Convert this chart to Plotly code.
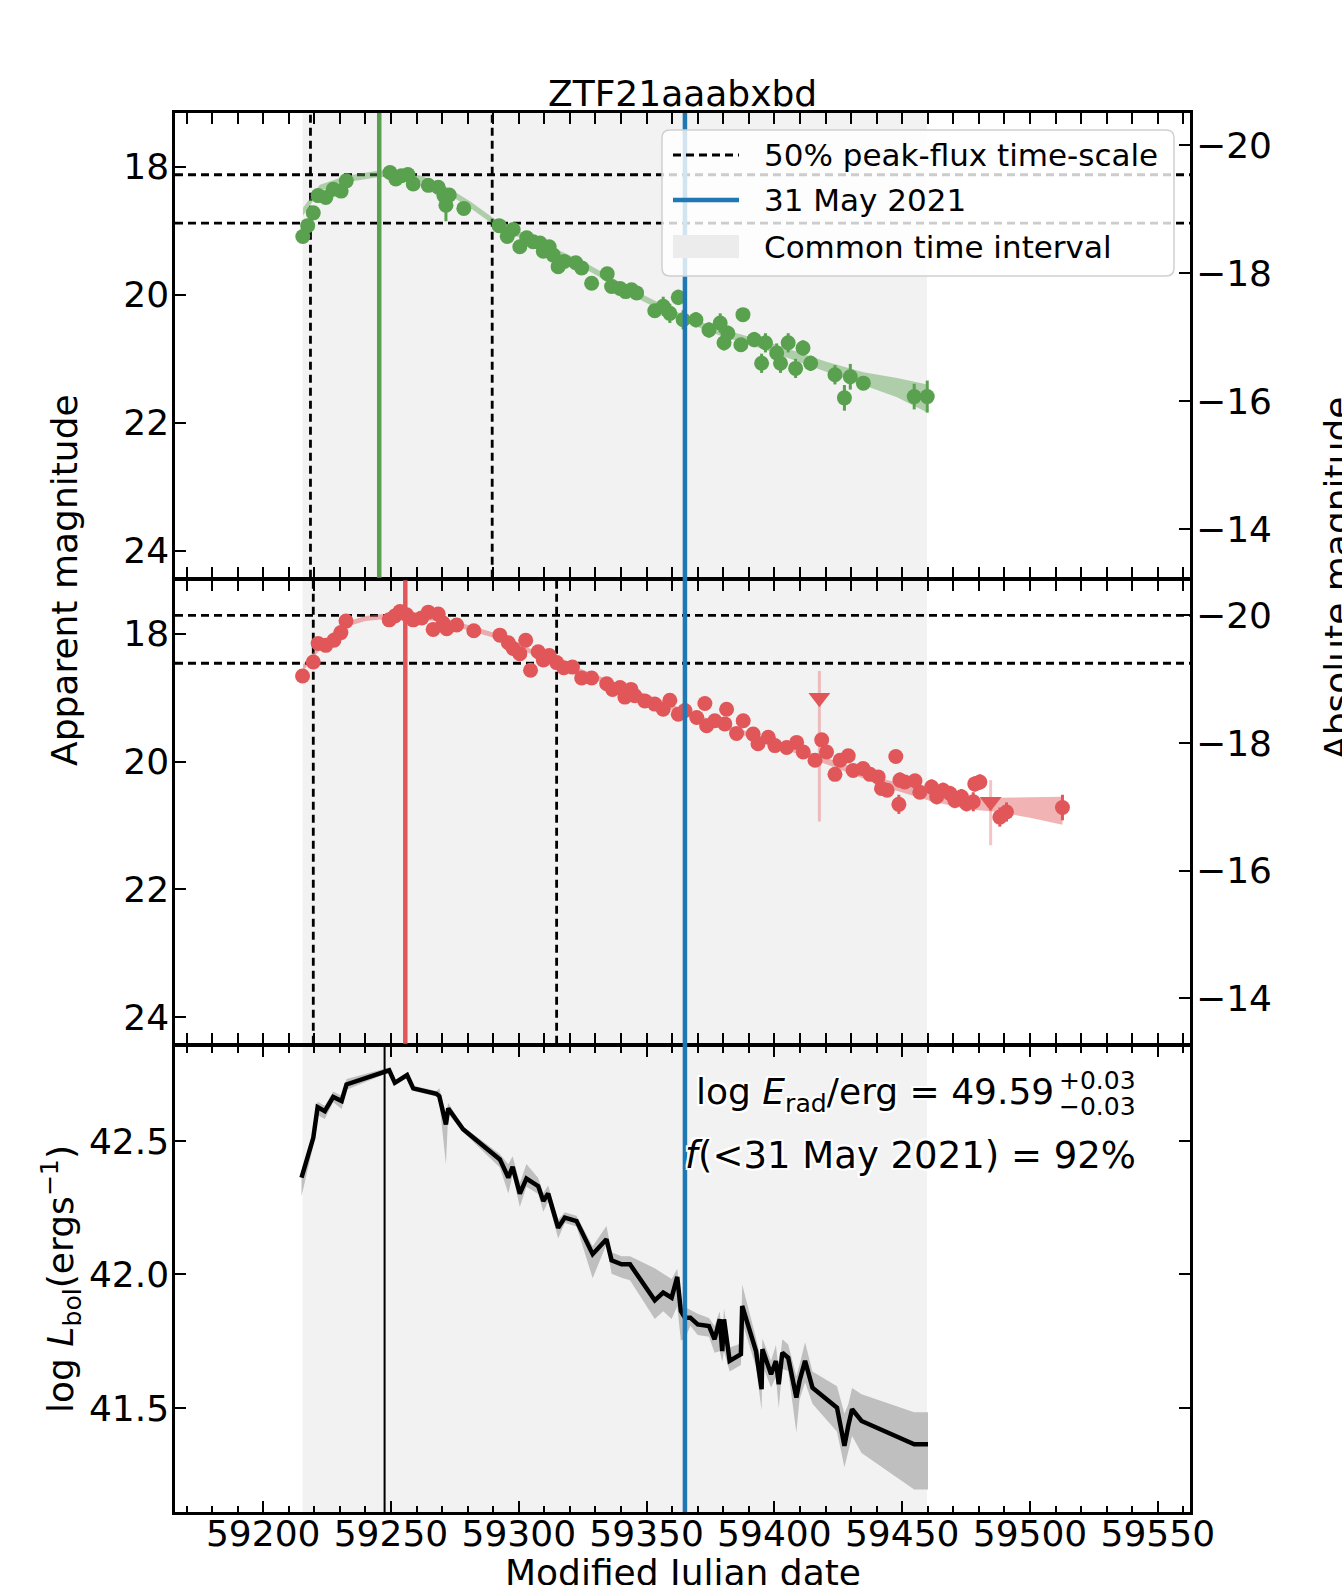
import plotly.graph_objects as go

# ---------------- data ----------------
title_text = "ZTF21aaabxbd"
x_range = [59165.5, 59562.6]
mag_range = [24.42, 17.16]
dm_g = 37.66
dm_r = 37.71
logL_range = [41.11, 42.855]
x_ticks = [59200, 59250, 59300, 59350, 59400, 59450, 59500, 59550]
mag_ticks = [18, 20, 22, 24]
abs_ticks = [-20, -18, -16, -14]
logL_ticks = [41.5, 42.0, 42.5]
logL_ticklabels = ["41.5", "42.0", "42.5"]

common_interval = [59215.4, 59459.7]
date_mjd = 59365.0
g_peak = 59245.4
r_peak = 59255.6
L_peak = 59247.5
g_half_t = [59218.5, 59289.6]
g_half_m = [18.125, 18.88]
r_half_t = [59219.6, 59314.8]
r_half_m = [17.71, 18.46]

g_t = [59215.5, 59217.4, 59219.6, 59221.5, 59224.5, 59227.4, 59230.5, 59232.5, 59249.6, 59251.9,
       59254.1, 59256.6, 59258.7, 59264.6, 59268.5, 59270.7, 59271.5, 59272.8, 59278.5, 59292.3,
       59295.5, 59297.8, 59300.4, 59303.1, 59305.6, 59308.3, 59309.6, 59311.9, 59313.5, 59315.4,
       59317.8, 59322.3, 59324.6, 59328.5, 59334.6, 59336.3, 59339.6, 59341.8, 59344.1, 59346.1,
       59353.2, 59356.5, 59359.1, 59362.4, 59364.3, 59369.3, 59374.4, 59378.8, 59380.3, 59381.8,
       59386.9, 59387.7, 59392.1, 59395.0, 59396.5, 59400.9, 59402.4, 59405.4, 59408.3, 59411.2,
       59414.2, 59423.7, 59427.4, 59429.7, 59434.8, 59454.7, 59459.8]
g_m = [19.09, 18.92, 18.72, 18.45, 18.48, 18.35, 18.38, 18.22, 18.09, 18.19,
       18.14, 18.12, 18.27, 18.29, 18.32, 18.45, 18.60, 18.44, 18.65, 18.92,
       19.09, 18.98, 19.25, 19.11, 19.17, 19.19, 19.32, 19.25, 19.38, 19.56,
       19.48, 19.50, 19.58, 19.82, 19.67, 19.87, 19.90, 19.95, 19.92, 19.97,
       20.25, 20.18, 20.29, 20.04, 20.39, 20.39, 20.55, 20.44, 20.75, 20.60,
       20.78, 20.31, 20.70, 21.07, 20.75, 20.91, 21.07, 20.75, 21.15, 20.83,
       21.07, 21.25, 21.61, 21.28, 21.38, 21.59, 21.59]
g_e = [0.08, 0.06, 0.05, 0.04, 0.04, 0.04, 0.04, 0.04, 0.03, 0.03,
       0.03, 0.03, 0.03, 0.03, 0.05, 0.05, 0.25, 0.06, 0.04, 0.04,
       0.05, 0.05, 0.05, 0.06, 0.05, 0.05, 0.05, 0.05, 0.05, 0.05,
       0.05, 0.05, 0.05, 0.10, 0.06, 0.06, 0.06, 0.05, 0.05, 0.05,
       0.10, 0.15, 0.15, 0.12, 0.15, 0.12, 0.12, 0.15, 0.12, 0.12,
       0.10, 0.10, 0.12, 0.15, 0.15, 0.15, 0.15, 0.15, 0.15, 0.12,
       0.12, 0.15, 0.20, 0.20, 0.10, 0.20, 0.25]

g_fit_t = [59215.6, 59222.2, 59232.6, 59245.4, 59254.6, 59262.4, 59271.5, 59280.9, 59290.0, 59307.0,
           59326.6, 59346.1, 59362.0, 59376.0, 59398.0, 59420.0, 59434.8, 59448.0, 59459.8]
g_fit_m = [18.70, 18.33, 18.19, 18.11, 18.12, 18.20, 18.36, 18.59, 18.85, 19.19,
           19.56, 20.00, 20.32, 20.55, 20.81, 21.12, 21.31, 21.45, 21.62]
g_fit_hw = [0.06, 0.05, 0.05, 0.05, 0.05, 0.05, 0.05, 0.05, 0.05, 0.05,
            0.05, 0.05, 0.05, 0.05, 0.07, 0.08, 0.10, 0.15, 0.22]

r_t = [59215.4, 59219.6, 59221.5, 59224.5, 59227.7, 59230.4, 59232.4, 59249.3, 59251.5, 59253.5,
       59256.1, 59258.7, 59262.0, 59264.6, 59266.5, 59268.5, 59270.4, 59271.8, 59275.7, 59282.4,
       59292.6, 59295.9, 59297.8, 59300.4, 59302.7, 59304.6, 59307.6, 59309.6, 59311.9, 59314.8,
       59317.6, 59321.0, 59324.6, 59328.5, 59334.4, 59336.7, 59339.6, 59341.5, 59343.9, 59345.4,
       59349.3, 59353.2, 59356.5, 59359.1, 59362.4, 59365.0, 59369.6, 59372.8, 59373.5, 59376.7,
       59380.6, 59381.3, 59385.2, 59387.8, 59391.7, 59393.6, 59397.6, 59400.2, 59404.8, 59408.7,
       59411.3, 59415.9, 59418.5, 59420.4, 59423.7, 59425.7, 59428.9, 59430.8, 59434.7, 59437.4,
       59440.6, 59441.9, 59444.1, 59447.5, 59448.7, 59449.1, 59451.0, 59455.0, 59456.9, 59461.5,
       59463.5, 59466.0, 59468.7, 59470.6, 59473.2, 59475.2, 59477.8, 59478.4, 59480.4, 59488.2,
       59490.8, 59512.7]
r_m = [18.66, 18.44, 18.15, 18.18, 18.10, 17.98, 17.80, 17.78, 17.72, 17.65,
       17.70, 17.78, 17.75, 17.66, 17.93, 17.69, 17.83, 17.92, 17.86, 17.95,
       18.02, 18.14, 18.23, 18.31, 18.10, 18.57, 18.28, 18.41, 18.34, 18.45,
       18.53, 18.52, 18.69, 18.69, 18.78, 18.87, 18.84, 18.99, 18.87, 18.97,
       19.05, 19.10, 19.18, 19.04, 19.26, 19.20, 19.31, 19.09, 19.44, 19.36,
       19.41, 19.18, 19.56, 19.36, 19.57, 19.72, 19.62, 19.75, 19.78, 19.70,
       19.85, 19.98, 19.66, 19.85, 20.20, 19.98, 19.91, 20.14, 20.11, 20.20,
       20.24, 20.42, 20.45, 19.92, 20.67, 20.29, 20.32, 20.30, 20.48, 20.40,
       20.55, 20.45, 20.50, 20.61, 20.55, 20.66, 20.63, 20.35, 20.32, 20.87,
       20.79, 20.72]
r_e = [0.04, 0.04, 0.03, 0.03, 0.03, 0.03, 0.03, 0.03, 0.03, 0.03,
       0.03, 0.03, 0.03, 0.03, 0.03, 0.03, 0.03, 0.03, 0.03, 0.03,
       0.03, 0.03, 0.03, 0.03, 0.03, 0.03, 0.03, 0.03, 0.03, 0.03,
       0.03, 0.03, 0.03, 0.03, 0.03, 0.03, 0.03, 0.03, 0.03, 0.03,
       0.03, 0.03, 0.03, 0.03, 0.03, 0.03, 0.04, 0.06, 0.04, 0.04,
       0.05, 0.06, 0.04, 0.05, 0.04, 0.04, 0.04, 0.04, 0.04, 0.05,
       0.05, 0.08, 0.10, 0.10, 0.08, 0.05, 0.06, 0.06, 0.06, 0.08,
       0.08, 0.10, 0.10, 0.10, 0.15, 0.12, 0.10, 0.10, 0.10, 0.12,
       0.12, 0.12, 0.12, 0.12, 0.12, 0.12, 0.15, 0.12, 0.12, 0.15,
       0.15, 0.20]
r_lim_t = [59417.6, 59484.6]
r_lim_m = [19.00, 20.63]
r_lim_eup = [1.94, 0.68]
r_lim_elo = [0.42, 0.34]

r_fit_t = [59215.6, 59220.9, 59226.0, 59232.5, 59240.0, 59247.0, 59254.6, 59267.7, 59280.9, 59292.6,
           59307.0, 59320.0, 59333.0, 59352.6, 59370.0, 59397.0, 59423.0, 59444.0, 59462.0, 59476.5,
           59488.0, 59500.0, 59512.7]
r_fit_m = [18.53, 18.27, 18.05, 17.85, 17.76, 17.73, 17.72, 17.76, 17.91, 18.05,
           18.32, 18.52, 18.72, 19.03, 19.31, 19.67, 20.03, 20.35, 20.55, 20.66,
           20.68, 20.72, 20.77]
r_fit_hw = [0.05, 0.04, 0.04, 0.04, 0.04, 0.04, 0.04, 0.04, 0.04, 0.04,
            0.04, 0.04, 0.04, 0.04, 0.04, 0.04, 0.05, 0.06, 0.08, 0.09,
            0.11, 0.16, 0.22]

L_t = [59215.0, 59219.6, 59221.3, 59224.1, 59227.4, 59230.7, 59232.6, 59247.0, 59249.3, 59251.5,
       59256.3, 59258.7, 59267.8, 59268.9, 59271.5, 59272.4, 59278.2, 59292.6, 59295.9, 59297.6,
       59300.4, 59303.0, 59307.6, 59309.6, 59311.5, 59315.4, 59318.0, 59322.6, 59328.9, 59334.3,
       59336.3, 59340.2, 59343.5, 59353.2, 59356.5, 59359.8, 59362.0, 59363.4, 59365.0, 59367.1,
       59370.0, 59374.4, 59376.6, 59378.6, 59379.6, 59380.3, 59382.5, 59386.9, 59387.4, 59392.8,
       59395.0, 59395.3, 59398.7, 59400.6, 59401.7, 59403.1, 59405.4, 59408.6, 59409.8, 59412.0,
       59414.9, 59424.5, 59427.4, 59428.9, 59430.4, 59434.1, 59454.7, 59460.1]
L_v = [42.363, 42.512, 42.627, 42.612, 42.665, 42.650, 42.712, 42.758, 42.765, 42.718,
       42.747, 42.697, 42.677, 42.668, 42.562, 42.622, 42.544, 42.431, 42.363, 42.403,
       42.303, 42.359, 42.331, 42.275, 42.303, 42.175, 42.213, 42.200, 42.076, 42.132,
       42.053, 42.038, 42.038, 41.903, 41.932, 41.913, 41.991, 41.863, 41.838, 41.838,
       41.813, 41.807, 41.757, 41.832, 41.713, 41.832, 41.676, 41.701, 41.882, 41.713,
       41.570, 41.720, 41.626, 41.676, 41.589, 41.707, 41.688, 41.539, 41.600, 41.676,
       41.576, 41.501, 41.358, 41.433, 41.495, 41.451, 41.364, 41.364]
L_eup = [0.02, 0.02, 0.02, 0.02, 0.02, 0.02, 0.02, 0.01, 0.01, 0.01,
         0.01, 0.01, 0.01, 0.03, 0.04, 0.02, 0.01, 0.02, 0.05, 0.04,
         0.04, 0.055, 0.03, 0.03, 0.03, 0.03, 0.02, 0.02, 0.03, 0.05,
         0.03, 0.03, 0.03, 0.12, 0.07, 0.07, 0.03, 0.03, 0.04, 0.03,
         0.04, 0.03, 0.05, 0.03, 0.06, 0.04, 0.05, 0.04, 0.08, 0.05,
         0.10, 0.04, 0.05, 0.06, 0.05, 0.05, 0.05, 0.08, 0.06, 0.07,
         0.06, 0.08, 0.12, 0.08, 0.08, 0.10, 0.12, 0.12]
L_elo = [0.07, 0.03, 0.03, 0.03, 0.02, 0.03, 0.02, 0.01, 0.01, 0.01,
         0.01, 0.01, 0.01, 0.02, 0.15, 0.02, 0.01, 0.03, 0.06, 0.03,
         0.05, 0.03, 0.03, 0.04, 0.03, 0.04, 0.02, 0.02, 0.09, 0.02,
         0.05, 0.05, 0.06, 0.07, 0.07, 0.08, 0.11, 0.11, 0.08, 0.03,
         0.04, 0.04, 0.05, 0.12, 0.04, 0.12, 0.04, 0.04, 0.06, 0.06,
         0.08, 0.06, 0.05, 0.06, 0.09, 0.06, 0.05, 0.13, 0.07, 0.08,
         0.06, 0.09, 0.08, 0.10, 0.10, 0.12, 0.17, 0.17]

legend_labels = ["50% peak-flux time-scale", "31 May 2021", "Common time interval"]
erad_text = "log <i>E</i><sub>rad</sub>/erg = 49.59"
erad_up = "+0.03"
erad_lo = "\u22120.03"
frac_text = "<i>f</i>(<31 May 2021) = 92%"

# ---------------- styling ----------------
GREEN = "#59a14f"
RED = "#e15759"
BLUE = "#1f77b4"
FONT = "DejaVu Sans"
W, H = 1342, 1585
PL, PR, PT, PB = 175, 1190, 113, 1512
LW = 2.5


def px(xp):
    return (xp - PL) / (PR - PL)


def py(yp):
    return (PB - yp) / (PB - PT)


fig = go.Figure()

# green fit band
g_up = [m - h for m, h in zip(g_fit_m, g_fit_hw)]
g_lo = [m + h for m, h in zip(g_fit_m, g_fit_hw)]
fig.add_trace(go.Scatter(x=g_fit_t + g_fit_t[::-1], y=g_up + g_lo[::-1], fill="toself",
                         fillcolor="rgba(89,161,79,0.45)", line=dict(width=0), mode="lines",
                         xaxis="x", yaxis="y", hoverinfo="skip", showlegend=False))
fig.add_trace(go.Scatter(x=g_t, y=g_m, mode="markers", xaxis="x", yaxis="y",
                         marker=dict(color=GREEN, size=15),
                         error_y=dict(type="data", array=g_e, color=GREEN, thickness=3, width=0),
                         showlegend=False))

# red fit band
r_up = [m - h for m, h in zip(r_fit_m, r_fit_hw)]
r_lo = [m + h for m, h in zip(r_fit_m, r_fit_hw)]
fig.add_trace(go.Scatter(x=r_fit_t + r_fit_t[::-1], y=r_up + r_lo[::-1], fill="toself",
                         fillcolor="rgba(225,87,89,0.45)", line=dict(width=0), mode="lines",
                         xaxis="x2", yaxis="y2", hoverinfo="skip", showlegend=False))
fig.add_trace(go.Scatter(x=r_lim_t, y=r_lim_m, mode="markers", xaxis="x2", yaxis="y2",
                         marker=dict(color=RED, size=19, symbol="triangle-down"),
                         error_y=dict(type="data", symmetric=False, array=r_lim_eup,
                                      arrayminus=r_lim_elo, color="rgba(225,87,89,0.35)",
                                      thickness=3, width=0),
                         showlegend=False))
fig.add_trace(go.Scatter(x=r_t, y=r_m, mode="markers", xaxis="x2", yaxis="y2",
                         marker=dict(color=RED, size=15),
                         error_y=dict(type="data", array=r_e, color=RED, thickness=3, width=0),
                         showlegend=False))

# bolometric luminosity
L_hi = [v + e for v, e in zip(L_v, L_eup)]
L_lo = [v - e for v, e in zip(L_v, L_elo)]
fig.add_trace(go.Scatter(x=L_t + L_t[::-1], y=L_hi + L_lo[::-1], fill="toself",
                         fillcolor="#bfbfbf", line=dict(width=0), mode="lines",
                         xaxis="x3", yaxis="y3", hoverinfo="skip", showlegend=False))
fig.add_trace(go.Scatter(x=L_t, y=L_v, mode="lines", xaxis="x3", yaxis="y3",
                         line=dict(color="black", width=4.5), showlegend=False))

# invisible anchors for the absolute-magnitude twin axes
fig.add_trace(go.Scatter(x=[g_t[0]], y=[g_m[0] - dm_g], mode="markers", xaxis="x", yaxis="y4",
                         marker=dict(opacity=0), hoverinfo="skip", showlegend=False))
fig.add_trace(go.Scatter(x=[r_t[0]], y=[r_m[0] - dm_r], mode="markers", xaxis="x2", yaxis="y5",
                         marker=dict(opacity=0), hoverinfo="skip", showlegend=False))

shapes = []
for xr, yr in [("x", "y domain"), ("x2", "y2 domain"), ("x3", "y3 domain")]:
    shapes.append(dict(type="rect", xref=xr, yref=yr, x0=common_interval[0], x1=common_interval[1],
                       y0=0, y1=1, fillcolor="#f2f2f2", line=dict(width=0), layer="below"))

DASH = "8px,5px"
DW = 2.8
for m in g_half_m:
    shapes.append(dict(type="line", xref="x domain", yref="y", x0=0, x1=1, y0=m, y1=m,
                       line=dict(color="black", width=DW, dash=DASH), layer="below"))
for t in g_half_t:
    shapes.append(dict(type="line", xref="x", yref="y domain", x0=t, x1=t, y0=0, y1=1,
                       line=dict(color="black", width=DW, dash=DASH), layer="below"))
for m in r_half_m:
    shapes.append(dict(type="line", xref="x2 domain", yref="y2", x0=0, x1=1, y0=m, y1=m,
                       line=dict(color="black", width=DW, dash=DASH), layer="below"))
for t in r_half_t:
    shapes.append(dict(type="line", xref="x2", yref="y2 domain", x0=t, x1=t, y0=0, y1=1,
                       line=dict(color="black", width=DW, dash=DASH), layer="below"))

shapes.append(dict(type="line", xref="x", yref="y domain", x0=g_peak, x1=g_peak, y0=0, y1=1,
                   line=dict(color=GREEN, width=4.5), layer="above"))
shapes.append(dict(type="line", xref="x2", yref="y2 domain", x0=r_peak, x1=r_peak, y0=0, y1=1,
                   line=dict(color=RED, width=4.5), layer="above"))
shapes.append(dict(type="line", xref="x3", yref="y3 domain", x0=L_peak, x1=L_peak, y0=0, y1=1,
                   line=dict(color="black", width=2), layer="above"))
shapes.append(dict(type="line", xref="x", yref="paper", x0=date_mjd, x1=date_mjd, y0=0, y1=1,
                   line=dict(color=BLUE, width=4.5), layer="above"))

# legend box (rounded)
bx0, bx1, by0, by1, rad = 662, 1174, 130, 276, 8


def P(x, y):
    return f"{px(x):.5f},{py(y):.5f}"


path = (f"M {P(bx0 + rad, by0)} L {P(bx1 - rad, by0)} Q {P(bx1, by0)} {P(bx1, by0 + rad)} "
        f"L {P(bx1, by1 - rad)} Q {P(bx1, by1)} {P(bx1 - rad, by1)} "
        f"L {P(bx0 + rad, by1)} Q {P(bx0, by1)} {P(bx0, by1 - rad)} "
        f"L {P(bx0, by0 + rad)} Q {P(bx0, by0)} {P(bx0 + rad, by0)} Z")
shapes.append(dict(type="path", xref="paper", yref="paper", path=path,
                   fillcolor="rgba(255,255,255,0.8)", line=dict(color="#d0d0d0", width=1.5),
                   layer="above"))
rows = [155, 200, 246.5]
shapes.append(dict(type="line", xref="paper", yref="paper", x0=px(673), x1=px(739),
                   y0=py(rows[0]), y1=py(rows[0]),
                   line=dict(color="black", width=DW, dash=DASH), layer="above"))
shapes.append(dict(type="line", xref="paper", yref="paper", x0=px(673), x1=px(739),
                   y0=py(rows[1]), y1=py(rows[1]), line=dict(color=BLUE, width=4.5), layer="above"))
shapes.append(dict(type="rect", xref="paper", yref="paper", x0=px(673), x1=px(739),
                   y0=py(258), y1=py(235), fillcolor="#ececec", line=dict(width=0), layer="above"))

annotations = []
for lab, r in zip(legend_labels, rows):
    annotations.append(dict(text=lab, xref="paper", yref="paper", x=px(762), y=py(r),
                            xanchor="left", yanchor="middle", showarrow=False,
                            font=dict(family=FONT, size=31, color="black")))

annotations.append(dict(text=title_text, xref="paper", yref="paper", x=px(682.5), y=py(93),
                        xanchor="center", yanchor="middle", showarrow=False,
                        font=dict(family=FONT, size=36, color="black")))
annotations.append(dict(text="Apparent magnitude", xref="paper", yref="paper", x=px(64), y=py(580),
                        xanchor="center", yanchor="middle", textangle=-90, showarrow=False,
                        font=dict(family=FONT, size=36, color="black")))
annotations.append(dict(text="Absolute magnitude", xref="paper", yref="paper", x=px(1337), y=py(578),
                        xanchor="center", yanchor="middle", textangle=-90, showarrow=False,
                        font=dict(family=FONT, size=36, color="black")))
annotations.append(dict(text="log <i>L</i><sub>bol</sub>(ergs<sup>\u22121</sup>)", xref="paper",
                        yref="paper", x=px(61), y=py(1279), xanchor="center", yanchor="middle",
                        textangle=-90, showarrow=False,
                        font=dict(family=FONT, size=36, color="black")))
annotations.append(dict(text="Modified Julian date", xref="paper", yref="paper", x=px(682.5),
                        y=py(1572), xanchor="center", yanchor="middle", showarrow=False,
                        font=dict(family=FONT, size=36, color="black")))

SH = ("2px 2px 0 white, -2px -2px 0 white, 2px -2px 0 white, -2px 2px 0 white, "
      "0 2px 0 white, 0 -2px 0 white, 2px 0 0 white, -2px 0 0 white")
annotations.append(dict(text=erad_text, xref="paper", yref="paper", x=px(1056), y=py(1094),
                        xanchor="right", yanchor="middle", showarrow=False,
                        font=dict(family=FONT, size=36, color="black", shadow=SH)))
annotations.append(dict(text=erad_up, xref="paper", yref="paper", x=px(1057), y=py(1080),
                        xanchor="left", yanchor="middle", showarrow=False,
                        font=dict(family=FONT, size=25, color="black", shadow=SH)))
annotations.append(dict(text=erad_lo, xref="paper", yref="paper", x=px(1057), y=py(1106),
                        xanchor="left", yanchor="middle", showarrow=False,
                        font=dict(family=FONT, size=25, color="black", shadow=SH)))
annotations.append(dict(text=frac_text, xref="paper", yref="paper", x=px(1138), y=py(1155),
                        xanchor="right", yanchor="middle", showarrow=False,
                        font=dict(family=FONT, size=37, color="black", shadow=SH)))

tickfont = dict(family=FONT, size=36, color="black")
xcommon = dict(range=x_range, showgrid=False, zeroline=False, showline=True, linecolor="black",
               linewidth=LW, mirror="allticks", ticks="inside", ticklen=11, tickwidth=2,
               tickcolor="black", tickvals=x_ticks, tickformat="d", tickfont=tickfont,
               minor=dict(dtick=10, tick0=59200, ticks="inside", ticklen=6.5, tickwidth=1.5,
                          tickcolor="black", showgrid=False))
ycommon = dict(showgrid=False, zeroline=False, showline=True, linecolor="black", linewidth=LW,
               ticks="inside", ticklen=11, tickwidth=2, tickcolor="black", tickfont=tickfont,
               ticklabelstandoff=-4)
ytwin = dict(showgrid=False, zeroline=False, showline=False, ticks="inside", ticklen=11,
             tickwidth=2, tickcolor="black", tickfont=tickfont, ticklabelstandoff=5)
h = LW / 2
fig.update_layout(
    width=W, height=H,
    margin=dict(l=PL, r=W - PR, t=PT, b=H - PB),
    paper_bgcolor="white", plot_bgcolor="rgba(0,0,0,0)",
    showlegend=False,
    xaxis=dict(**xcommon, anchor="y", domain=[0, 1], showticklabels=False),
    xaxis2=dict(**xcommon, anchor="y2", domain=[0, 1], showticklabels=False, matches="x"),
    xaxis3=dict(**xcommon, anchor="y3", domain=[0, 1], showticklabels=True, matches="x",
                ticklabelstandoff=-12),
    yaxis=dict(**ycommon, domain=[py(579 - h), 1], range=mag_range, tickvals=mag_ticks,
               mirror=True, anchor="x"),
    yaxis2=dict(**ycommon, domain=[py(1045 - h), py(579 + h)], range=mag_range,
                tickvals=mag_ticks, mirror=True, anchor="x2"),
    yaxis3=dict(**ycommon, domain=[0, py(1045 + h)], range=logL_range, tickvals=logL_ticks,
                ticktext=logL_ticklabels, mirror="ticks", anchor="x3"),
    yaxis4=dict(**ytwin, overlaying="y", side="right", anchor="x",
                range=[mag_range[0] - dm_g, mag_range[1] - dm_g], tickvals=abs_ticks),
    yaxis5=dict(**ytwin, overlaying="y2", side="right", anchor="x2",
                range=[mag_range[0] - dm_r, mag_range[1] - dm_r], tickvals=abs_ticks),
    shapes=shapes,
    annotations=annotations,
)

fig.write_html("out.html")
